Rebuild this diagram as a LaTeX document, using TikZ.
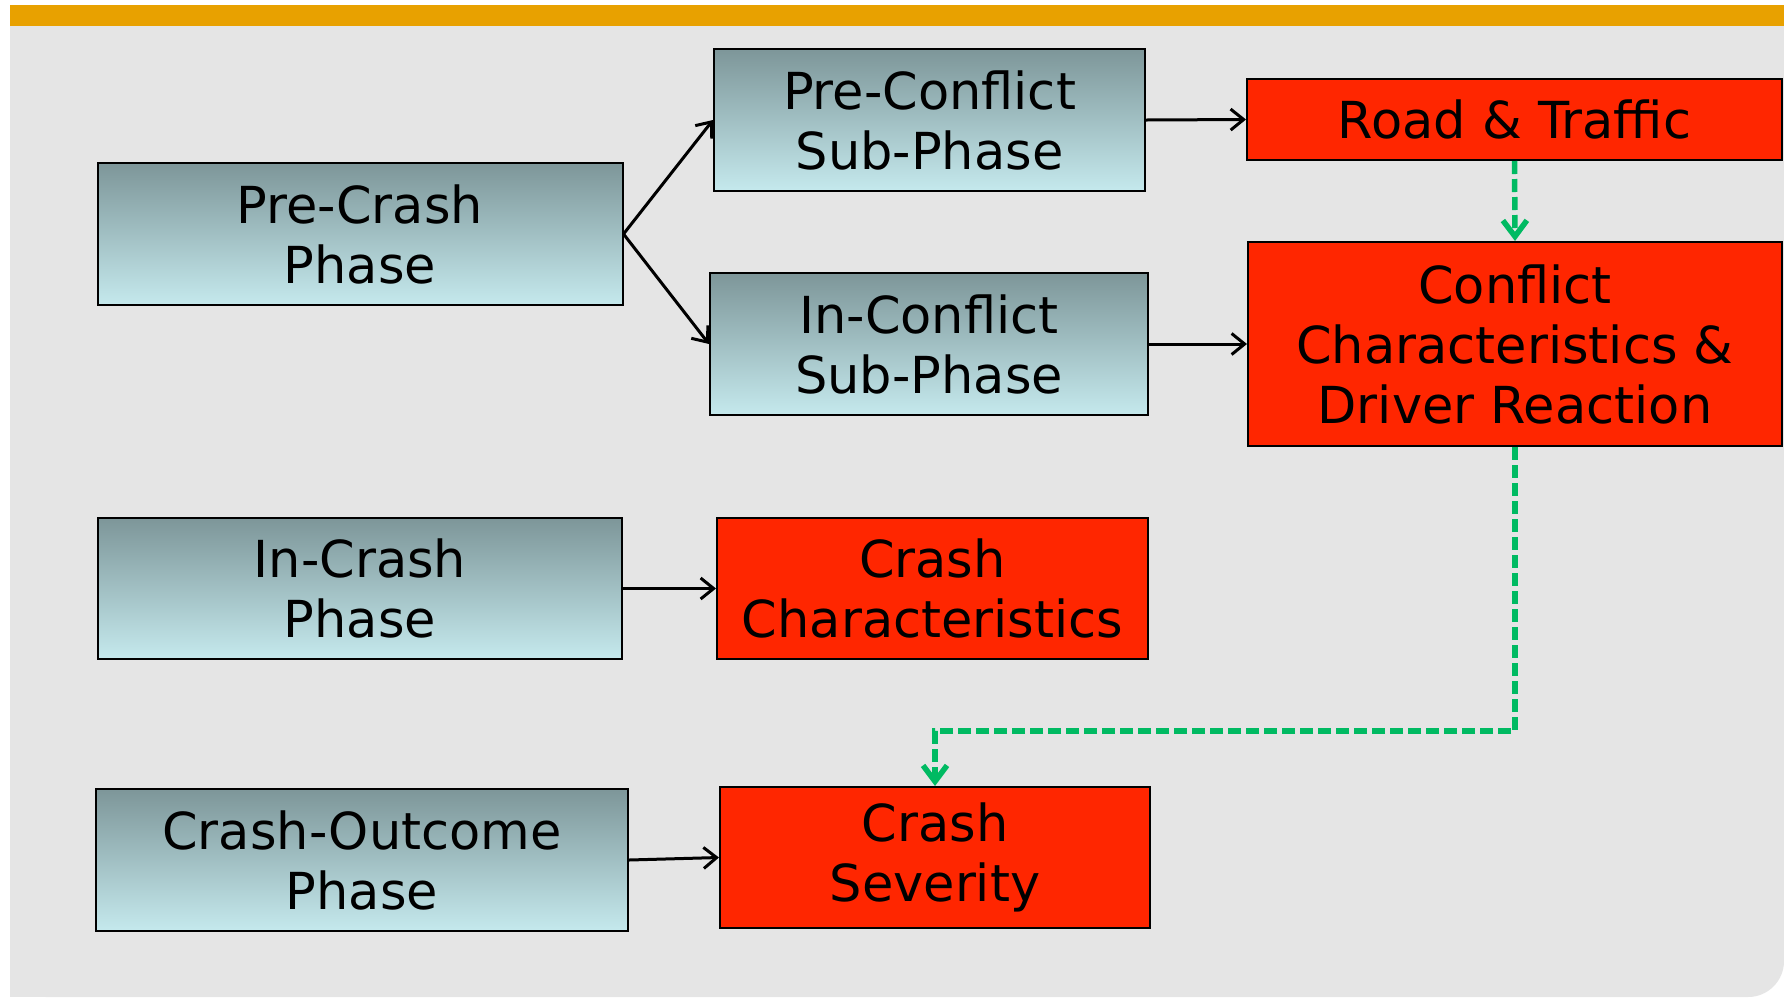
\documentclass[tikz,border=0pt]{standalone}
\usepackage{fontspec}
\setmainfont{DejaVu Sans}
\usetikzlibrary{arrows.meta}

\definecolor{bggray}{HTML}{E5E5E5}
\definecolor{barorange}{HTML}{E8A100}
\definecolor{phasetop}{RGB}{125,150,153}
\definecolor{phasebot}{RGB}{197,233,237}
\definecolor{factred}{HTML}{FF2600}
\definecolor{linkgreen}{HTML}{00BA62}

\tikzset{
  phasebox/.style={draw=black, line width=2pt, top color=phasetop, bottom color=phasebot,
    inner sep=0pt, align=center, font=\fontsize{51}{60}\selectfont},
  factorbox/.style={draw=black, line width=2pt, fill=factred,
    inner sep=0pt, align=center, font=\fontsize{51}{60}\selectfont},
  flow/.style={draw=black, line width=3pt, -{Straight Barb[length=13pt,width=21pt]}},
  link/.style={draw=linkgreen, line width=5.5pt, dash pattern=on 13pt off 5pt,
    -{Straight Barb[length=16pt,width=24pt]}},
}

\begin{document}
\begin{tikzpicture}[x=1pt,y=-1pt]
  \useasboundingbox (0,0) rectangle (1784,997);
  \fill[white] (0,0) rectangle (1784,997);

  % slide background with rounded lower right corner
  \fill[bggray, rounded corners=36pt] (10,900) rectangle (1784,997);
  \fill[bggray] (10,5) rectangle (1784,950);
  \fill[bggray] (10,900) rectangle (1700,997);
  \fill[barorange] (10,5) rectangle (1784,26);

  % phase boxes
  \node[phasebox, minimum width=525pt, minimum height=142pt] (precrash) at (360,234) {Pre-Crash\\Phase};
  \node[phasebox, minimum width=431pt, minimum height=142pt] (preconf) at (929.5,120) {Pre-Conflict\\Sub-Phase};
  \node[phasebox, minimum width=438pt, minimum height=142pt] (inconf) at (929,344) {In-Conflict\\Sub-Phase};
  \node[phasebox, minimum width=524pt, minimum height=141pt] (incrash) at (360,588.5) {In-Crash\\Phase};
  \node[phasebox, minimum width=532pt, minimum height=142pt] (outcome) at (362,860) {Crash-Outcome\\Phase};

  % factor boxes
  \node[factorbox, minimum width=535pt, minimum height=81pt] (road) at (1514.5,119.5) {Road \& Traffic};
  \node[factorbox, minimum width=534pt, minimum height=204pt] (conf) at (1515,344) {Conflict\\Characteristics \&\\Driver Reaction};
  \node[factorbox, minimum width=431pt, minimum height=141pt] (crashchar) at (932.5,588.5) {Crash\\Characteristics};
  \node[factorbox, minimum width=430pt, minimum height=141pt] (severity) at (935,857.5) {Crash\\Severity};

  % phase to factor connectors
  \draw[flow] (precrash.east) -- (preconf.west);
  \draw[flow] (precrash.east) -- (inconf.west);
  \draw[flow] (preconf.east) -- (road.west);
  \draw[flow] (inconf.east) -- (conf.west);
  \draw[flow] (incrash.east) -- (crashchar.west);
  \draw[flow] (outcome.east) -- (severity.west);

  % dashed links between factors
  \coordinate (bend) at (severity.north |- 0,731);
  \draw[link] (road.south) -- (conf.north);
  \draw[link] (conf.south) |- (bend) -- (severity.north);
\end{tikzpicture}
\end{document}
